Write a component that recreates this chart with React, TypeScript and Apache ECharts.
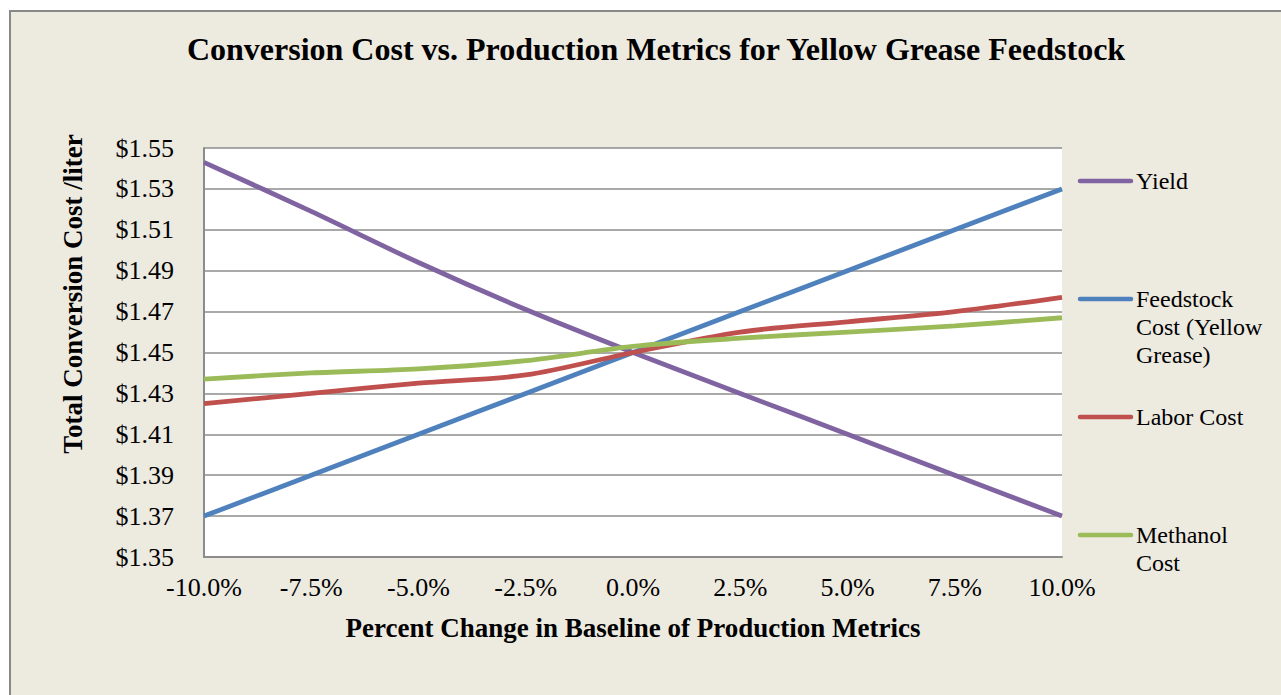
import React, { useEffect, useRef } from "react";
import * as echarts from "echarts";

const categories = ["-10.0%", "-7.5%", "-5.0%", "-2.5%", "0.0%", "2.5%", "5.0%", "7.5%", "10.0%"];
const yieldCost = [1.543, 1.519, 1.494, 1.471, 1.45, 1.43, 1.41, 1.39, 1.37];
const feedstockCost = [1.37, 1.39, 1.41, 1.43, 1.45, 1.47, 1.49, 1.51, 1.53];
const laborCost = [1.425, 1.43, 1.435, 1.439, 1.45, 1.46, 1.465, 1.47, 1.477];
const methanolCost = [1.437, 1.44, 1.442, 1.446, 1.453, 1.457, 1.46, 1.463, 1.467];

const seriesNames = ["Yield", "Feedstock Cost (Yellow Grease)", "Labor Cost", "Methanol Cost"];
const legendLabels = ["Yield", "Feedstock\nCost (Yellow\nGrease)", "Labor Cost", "Methanol\nCost"];
const colors = ["#8064A2", "#4F81BD", "#C0504D", "#9BBB59"];
const seriesData = [yieldCost, feedstockCost, laborCost, methanolCost];

const titleText = "Conversion Cost vs. Production Metrics for Yellow Grease Feedstock";
const yTitle = "Total Conversion Cost /liter";
const xTitle = "Percent Change in Baseline of Production Metrics";

const FONT = "'Liberation Serif', 'Times New Roman', serif";

export default function App() {
  const ref = useRef<HTMLDivElement>(null);
  useEffect(() => {
    if (!ref.current) return;
    const chart = echarts.init(ref.current, null, { renderer: "svg" });
    const legendY = [181, 299, 417, 535];
    const graphics: any[] = [
      {
        type: "rect",
        z: -100,
        silent: true,
        shape: { x: 10, y: 11, width: 1300, height: 700 },
        style: { fill: "#EDEAE0", stroke: "#888888", lineWidth: 2 },
      },
      {
        type: "text",
        x: 73,
        y: 294,
        rotation: Math.PI / 2,
        style: {
          text: yTitle,
          font: `bold 27px ${FONT}`,
          fill: "#000",
          align: "center",
          verticalAlign: "middle",
        },
      },
    ];
    legendLabels.forEach((lab, i) => {
      graphics.push({
        type: "line",
        shape: { x1: 1080, y1: legendY[i], x2: 1131, y2: legendY[i] },
        style: { stroke: colors[i], lineWidth: 4.5, lineCap: "round" },
      });
      graphics.push({
        type: "text",
        x: 1136,
        y: legendY[i] - 14,
        style: {
          text: lab,
          font: `24px ${FONT}`,
          fill: "#000",
          lineHeight: 28,
          verticalAlign: "top",
          align: "left",
        },
      });
    });

    chart.setOption({
      animation: false,
      backgroundColor: "transparent",
      title: {
        text: titleText,
        left: 651,
        top: 28,
        textAlign: "center",
        textStyle: { fontFamily: FONT, fontWeight: "bold", fontSize: 32, color: "#000" },
      },
      grid: {
        left: 204,
        top: 148,
        right: 219,
        bottom: 138,
        show: true,
        backgroundColor: "#FFFFFF",
        borderWidth: 0,
      },
      xAxis: {
        type: "category",
        data: categories,
        boundaryGap: false,
        axisLine: { show: true, lineStyle: { color: "#8C8C8C", width: 2 } },
        axisTick: { show: false },
        axisLabel: { fontFamily: FONT, fontSize: 26, color: "#000", margin: 17 },
        splitLine: { show: false },
        name: xTitle,
        nameLocation: "middle",
        nameGap: 57,
        nameTextStyle: { fontFamily: FONT, fontWeight: "bold", fontSize: 27, color: "#000" },
      },
      yAxis: {
        type: "value",
        min: 1.35,
        max: 1.55,
        interval: 0.02,
        axisLine: { show: true, lineStyle: { color: "#8C8C8C", width: 2 } },
        axisTick: { show: false },
        axisLabel: {
          fontFamily: FONT,
          fontSize: 26,
          color: "#000",
          margin: 30,
          formatter: (v: number) => "$" + v.toFixed(2),
        },
        splitLine: { show: true, lineStyle: { color: "#8C8C8C", width: 1.5 } },
      },
      series: seriesNames.map((n, i) => ({
        name: n,
        type: "line",
        data: seriesData[i],
        smooth: 0.3,
        symbol: "none",
        lineStyle: { color: colors[i], width: 4.8 },
        itemStyle: { color: colors[i] },
      })),
      graphic: graphics,
    });
    return () => chart.dispose();
  }, []);
  return (
    <div
      ref={ref}
      style={{ position: "absolute", left: 0, top: 0, width: 1281, height: 695, background: "#FFFFFF" }}
    />
  );
}
